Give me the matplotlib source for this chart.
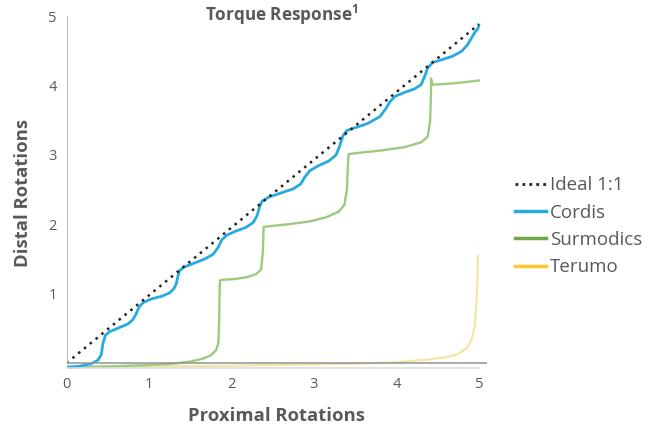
import matplotlib
matplotlib.use('Agg')
import matplotlib.pyplot as plt
from matplotlib.lines import Line2D

plt.rcParams['font.family'] = ['Open Sans', 'DejaVu Sans']

# data
ideal_x = [0, 5]
ideal_y = [0, 4.88]

cordis_x = [0.00, 0.15, 0.30, 0.38, 0.42, 0.44, 0.47, 0.52, 0.62, 0.74, 0.80, 0.84, 0.88, 0.93,
            1.02, 1.15, 1.25, 1.30, 1.33, 1.35, 1.37, 1.42, 1.55, 1.68, 1.78, 1.84, 1.88, 1.94,
            2.05, 2.17, 2.26, 2.31, 2.34, 2.37, 2.45, 2.60, 2.75, 2.84, 2.89, 2.95, 3.05, 3.18,
            3.27, 3.31, 3.35, 3.40, 3.50, 3.65, 3.80, 3.87, 3.92, 3.98, 4.10, 4.22, 4.30, 4.34,
            4.38, 4.44, 4.55, 4.68, 4.79, 4.86, 4.91, 4.95, 4.99, 5.00]
cordis_y = [-0.06, -0.05, -0.01, 0.04, 0.12, 0.28, 0.40, 0.45, 0.50, 0.56, 0.62, 0.70, 0.81, 0.87,
            0.92, 0.96, 1.01, 1.07, 1.14, 1.25, 1.33, 1.38, 1.44, 1.50, 1.57, 1.67, 1.77, 1.84,
            1.90, 1.95, 2.02, 2.12, 2.25, 2.33, 2.39, 2.45, 2.51, 2.58, 2.68, 2.77, 2.84, 2.91,
            3.00, 3.12, 3.27, 3.35, 3.39, 3.45, 3.55, 3.66, 3.76, 3.84, 3.90, 3.95, 4.01, 4.12,
            4.25, 4.33, 4.37, 4.42, 4.49, 4.58, 4.68, 4.76, 4.82, 4.87]

surm_x = [0.00, 0.5, 1.0, 1.3, 1.5, 1.65, 1.75, 1.81, 1.84, 1.85, 1.855, 1.86, 1.90, 2.05, 2.20,
          2.30, 2.36, 2.38, 2.39, 2.45, 2.70, 2.95, 3.15, 3.30, 3.37, 3.40, 3.41, 3.42, 3.48,
          3.80, 4.10, 4.30, 4.38, 4.41, 4.42, 4.42, 4.44, 4.70, 5.00]
surm_y = [-0.06, -0.05, -0.03, -0.01, 0.02, 0.06, 0.11, 0.18, 0.28, 0.6, 1.0, 1.19, 1.20, 1.21, 1.24,
          1.28, 1.35, 1.6, 1.96, 1.97, 2.00, 2.04, 2.10, 2.18, 2.28, 2.5, 2.8, 3.01, 3.02,
          3.06, 3.11, 3.18, 3.26, 3.5, 3.9, 4.10, 4.01, 4.03, 4.07]

terumo_x = [0, 1, 2, 3, 3.5, 4.0, 4.3, 4.6, 4.75, 4.85, 4.91, 4.95, 4.97, 4.985, 4.99]
terumo_y = [-0.06, -0.05, -0.04, -0.02, -0.01, 0.01, 0.04, 0.08, 0.13, 0.21, 0.33, 0.52, 0.85, 1.25, 1.56]

series = ['Ideal 1:1', 'Cordis', 'Surmodics', 'Terumo']
x_ticks = [0, 1, 2, 3, 4, 5]
y_ticks = [1, 2, 3, 4, 5]

grey = '#58595b'

fig = plt.figure(figsize=(6.62, 4.26), dpi=100)
ax = fig.add_axes([0.1007, 0.1317, 0.6350, 0.8307])

ax.plot(terumo_x, terumo_y, color='#f3e6a3', lw=1.6, solid_capstyle='butt')
ax.plot(surm_x, surm_y, color='#9dca7f', lw=1.7)
ax.plot(cordis_x, cordis_y, color='#27aae1', lw=2.0)
ax.plot(ideal_x, ideal_y, color='#222222', lw=1.8, linestyle=(0, (1, 2)))

ax.set_xlim(0, 5.1)
ax.set_ylim(-0.1, 5)
for s in ax.spines.values():
    s.set_visible(False)
ax.axvline(0, ymin=0.1 / 5.1, ymax=1, color='#b5b5b5', lw=1.4)
ax.axhline(0, color='#9a9a9a', lw=1.2)
ax.axhline(-0.07, xmin=0, xmax=5 / 5.1, color='#dcdcdc', lw=1.2)

ax.set_xticks(x_ticks)
ax.set_yticks(y_ticks)
ax.tick_params(length=0, labelsize=10.5, labelcolor=grey)
ax.tick_params(axis='x', pad=5)
ax.tick_params(axis='y', pad=7)

ax.set_xlabel('Proximal Rotations', fontsize=13.3, fontweight='bold', color=grey, labelpad=11)
ax.set_ylabel('Distal Rotations', fontsize=13.3, fontweight='bold', color=grey, labelpad=12)
fig.text(282 / 662, 1 - 15 / 426, 'Torque Response$^{\\mathregular{1}}$', fontsize=12.3,
         fontweight='bold', color=grey, ha='center', va='center')

handles = [
    Line2D([], [], color='#222222', lw=2, linestyle=(0, (1, 1.5))),
    Line2D([], [], color='#27aae1', lw=2.5),
    Line2D([], [], color='#6fa84a', lw=2.5),
    Line2D([], [], color='#fdc82f', lw=2.5),
]
leg = fig.legend(handles, series, loc='upper left', bbox_to_anchor=(0.766, 0.604),
                 frameon=False, fontsize=13.5, handlelength=1.7, handletextpad=0.2,
                 labelspacing=0.5, borderaxespad=0)
for t in leg.get_texts():
    t.set_color(grey)

fig.savefig('out.png', dpi=100)
